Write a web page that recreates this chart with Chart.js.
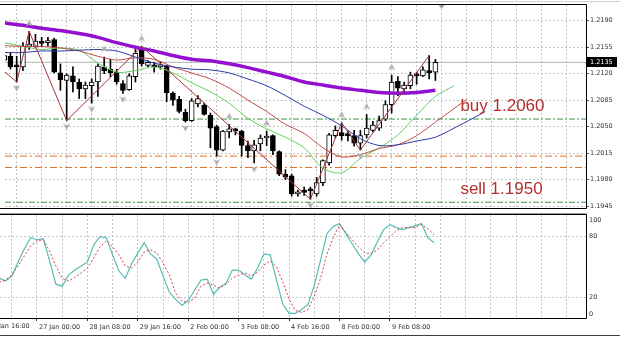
<!DOCTYPE html>
<html>
<head>
<meta charset="utf-8">
<title>EURUSD H4</title>
<script src="https://cdn.jsdelivr.net/npm/chart.js@4.4.1/dist/chart.umd.min.js"></script>
<style>
  html, body { margin: 0; padding: 0; background: #fff; }
  #wrap { position: relative; width: 620px; height: 337px; overflow: hidden; }
  canvas { position: absolute; left: 0; }
  #main { top: 0; }
  #osc { top: 213px; }
</style>
</head>
<body>
<div id="wrap">
  <canvas id="main" width="620" height="213"></canvas>
  <canvas id="osc" width="620" height="124"></canvas>
</div>
<script>
// H4 bars; bar 0 = 27 Jan 00:00, first visible bar is -6
var firstBar = -6;
var opens = [1.2138, 1.2143, 1.2131, 1.2129, 1.2156, 1.2156,
    1.2161, 1.2161, 1.2165, 1.2121, 1.2111, 1.2117, 1.2109, 1.2100, 1.2104, 1.2109,
    1.2129, 1.2126, 1.2122, 1.2107, 1.2099, 1.2116, 1.2153, 1.2131, 1.2131, 1.2129,
    1.2130, 1.2094, 1.2086, 1.2069, 1.2058, 1.2080, 1.2078, 1.2065, 1.2050, 1.2019,
    1.2043, 1.2047, 1.2044, 1.2025, 1.2018, 1.2027, 1.2035, 1.2038, 1.2017, 1.1987,
    1.1985, 1.1961, 1.1966, 1.1966, 1.1961, 1.1976, 1.2002, 1.2038, 1.2042, 1.2039,
    1.2038, 1.2028, 1.2039, 1.2045, 1.2048, 1.2060, 1.2079, 1.2110, 1.2100, 1.2104,
    1.2118, 1.2117, 1.2124, 1.2122];
var highs = [1.2148, 1.2148, 1.2143, 1.2161, 1.2176, 1.2172,
    1.2168, 1.2168, 1.2167, 1.2133, 1.2120, 1.2129, 1.2113, 1.2109, 1.2113, 1.2133,
    1.2142, 1.2139, 1.2126, 1.2111, 1.2120, 1.2152, 1.2156, 1.2137, 1.2135, 1.2135,
    1.2131, 1.2096, 1.2090, 1.2073, 1.2087, 1.2091, 1.2081, 1.2068, 1.2052, 1.2045,
    1.2053, 1.2048, 1.2045, 1.2031, 1.2032, 1.2039, 1.2044, 1.2039, 1.2018, 1.1993,
    1.1987, 1.1966, 1.1970, 1.1970, 1.1983, 1.2006, 1.2041, 1.2051, 1.2055, 1.2044,
    1.2045, 1.2045, 1.2066, 1.2057, 1.2064, 1.2084, 1.2118, 1.2116, 1.2109, 1.2122,
    1.2122, 1.2129, 1.2144, 1.2139];
var lows = [1.2135, 1.2126, 1.2109, 1.2124, 1.2152, 1.2155,
    1.2156, 1.2156, 1.2121, 1.2098, 1.2058, 1.2096, 1.2087, 1.2087, 1.2081, 1.2090,
    1.2120, 1.2116, 1.2106, 1.2094, 1.2098, 1.2109, 1.2130, 1.2129, 1.2122, 1.2126,
    1.2083, 1.2078, 1.2068, 1.2056, 1.2057, 1.2076, 1.2065, 1.2022, 1.2011, 1.2018,
    1.2035, 1.2039, 1.2011, 1.2009, 1.2002, 1.2018, 1.2025, 1.2013, 1.1985, 1.1980,
    1.1958, 1.1958, 1.1959, 1.1954, 1.1958, 1.1972, 1.1999, 1.2035, 1.2032, 1.2031,
    1.2024, 1.2019, 1.2035, 1.2043, 1.2045, 1.2058, 1.2068, 1.2091, 1.2094, 1.2100,
    1.2106, 1.2116, 1.2113, 1.2111];
var closes = [1.2144, 1.2129, 1.2129, 1.2156, 1.2159, 1.2163,
    1.2160, 1.2163, 1.2122, 1.2112, 1.2118, 1.2109, 1.2100, 1.2105, 1.2109, 1.2130,
    1.2124, 1.2121, 1.2109, 1.2098, 1.2117, 1.2147, 1.2133, 1.2135, 1.2129, 1.2131,
    1.2095, 1.2085, 1.2070, 1.2058, 1.2084, 1.2087, 1.2066, 1.2048, 1.2019, 1.2044,
    1.2047, 1.2044, 1.2025, 1.2018, 1.2026, 1.2035, 1.2037, 1.2018, 1.1987, 1.1983,
    1.1961, 1.1963, 1.1963, 1.1965, 1.1976, 1.2005, 1.2039, 1.2045, 1.2038, 1.2038,
    1.2028, 1.2038, 1.2048, 1.2052, 1.2058, 1.2079, 1.2109, 1.2101, 1.2105, 1.2118,
    1.2117, 1.2125, 1.2121, 1.2135];

// moving averages, read every 3 bars
var maBars = [-6, -3, 0, 3, 6, 9, 12, 15, 18, 21, 24, 27, 30, 33, 36, 39, 42, 45, 48, 51, 54, 57, 60, 63];
var slowMa = [1.2187, 1.2184, 1.2180, 1.2177, 1.2173, 1.2168, 1.2161, 1.2155, 1.2150, 1.2144, 1.2139, 1.2137,
    1.2133, 1.2128, 1.2122, 1.2116, 1.2109, 1.2105, 1.2101, 1.2098, 1.2095, 1.2094, 1.2095, 1.2098];
// alligator lines (shifted forward)
var jawBars = maBars.concat([66, 69, 71]);
var jaw = [1.2148, 1.2148, 1.2150, 1.2150, 1.2151, 1.2152, 1.2150, 1.2142, 1.2134, 1.2129, 1.2126, 1.2125,
    1.2121, 1.2113, 1.2104, 1.2091, 1.2077, 1.2065, 1.2051, 1.2034, 1.2025, 1.2026, 1.2031, 1.2036,
    1.2048, 1.2061, 1.2070];
var teethBars = maBars.concat([66, 68]);
var teeth = [1.2157, 1.2156, 1.2156, 1.2154, 1.2150, 1.2143, 1.2138, 1.2141, 1.2139, 1.2129, 1.2121, 1.2113,
    1.2101, 1.2085, 1.2070, 1.2053, 1.2041, 1.2022, 1.2010, 1.2013, 1.2021, 1.2026, 1.2038, 1.2056,
    1.2074, 1.2086];
var lipsBars = maBars.concat([66]);
var lips = [1.2161, 1.2156, 1.2152, 1.2154, 1.2151, 1.2134, 1.2122, 1.2124, 1.2129, 1.2121, 1.2108, 1.2096,
    1.2081, 1.2061, 1.2047, 1.2036, 1.2022, 1.1995, 1.1989, 1.2008, 1.2022, 1.2039, 1.2065, 1.2090,
    1.2104];

var zigzagBars = [-8, -4, -2, 4, 16, 43, 48, 51, 62];
var zigzag = [1.2137, 1.2109, 1.2176, 1.2058, 1.2156, 1.1954, 1.2055, 1.2019, 1.2144];
var fractalUpBars = [-2, 10, 16, 30, 36, 48, 52, 56];
var fractalDownBars = [-4, 4, 8, 13, 23, 28, 34, 43, 51];

var greenLevels = [1.2060, 1.1950];
var orangeLevels = [1.2011, 1.1996];
var noteTexts = ['buy 1.2060', 'sell 1.1950'];
var noteLevels = [1.2060, 1.1950];
var noteBar = 67;
var shiftBar = 64;

var priceTicks = [1.1945, 1.1980, 1.2015, 1.2050, 1.2085, 1.2120, 1.2155, 1.2190];
var timeTickBars = [-8, 0, 8, 16, 24, 32, 40, 48, 56];
var timeTickLabels = ['25 Jan 16:00', '27 Jan 00:00', '28 Jan 08:00', '29 Jan 16:00', '2 Feb 00:00',
    '3 Feb 08:00', '4 Feb 16:00', '8 Feb 00:00', '9 Feb 08:00'];

// stochastic
var stochMain = [39, 36, 41, 55, 68, 79, 77, 78, 56, 33, 31, 42, 47, 51, 55, 72, 80, 79, 62, 46,
    39, 53, 64, 74, 63, 58, 41, 25, 18, 12, 17, 27, 37, 38, 23, 30, 34, 47, 47, 42,
    38, 49, 63, 62, 37, 13, 4, 4, 8, 13, 32, 57, 83, 90, 93, 83, 73, 63, 55, 62,
    75, 87, 92, 89, 87, 89, 91, 93, 79, 74];
var stochSignal = [35, 37, 42, 51, 61, 71, 76, 77, 66, 51, 39, 36, 40, 44, 49, 59, 70, 76, 70, 62,
    51, 49, 55, 65, 67, 64, 54, 42, 24, 16, 15, 19, 31, 34, 32, 29, 33, 39, 42, 44,
    41, 45, 52, 56, 50, 35, 18, 7, 5, 8, 21, 39, 63, 79, 92, 84, 77, 70, 64, 63,
    67, 74, 80, 86, 89, 89, 89, 92, 88, 82];
var stochLevels = [20, 80];
var stochTicks = [0, 20, 80, 100];

// view
var xMin = -5.87, xMax = 87.1;
var priceMin = 1.19424, priceMax = 1.22108;
var oscMin = -0.5, oscMax = 101.5;
var gridStep = 4;

var axisFont = { family: 'DejaVu Sans', size: 6.5 };
var axisColor = '#333333';
var gridColor = '#c4c4c4';

function points(bars, vals) {
    return vals.map(function (v, i) { return { x: bars[i], y: v }; });
}
function barsFrom(vals) {
    return vals.map(function (v, i) { return { x: firstBar + i, y: v }; });
}
function gridTicks(scale) {
    var t = [];
    for (var v = Math.ceil(xMin / gridStep) * gridStep; v < xMax; v += gridStep) {
        t.push({ value: v });
    }
    scale.ticks = t;
}
function fractalArrow(up) {
    var gap = up ? 8 : 6;
    var c = document.createElement('canvas');
    c.width = 7;
    c.height = 2 * (gap + 4);
    var g = c.getContext('2d');
    var cy = up ? c.height / 2 - gap : c.height / 2 + gap;
    g.fillStyle = '#adadad';
    g.beginPath();
    if (up) {
        g.moveTo(3.5, cy - 3.5); g.lineTo(7, cy + 3); g.lineTo(3.5, cy + 1.2); g.lineTo(0, cy + 3);
    } else {
        g.moveTo(3.5, cy + 3.5); g.lineTo(7, cy - 3); g.lineTo(3.5, cy - 1.2); g.lineTo(0, cy - 3);
    }
    g.closePath();
    g.fill();
    return c;
}

var wickData = lows.map(function (l, i) { return { x: firstBar + i, y: [l, highs[i]] }; });
var bodyData = opens.map(function (o, i) { return { x: firstBar + i, y: [o, closes[i]] }; });
var bodyColors = opens.map(function (o, i) { return closes[i] >= o ? '#ffffff' : '#000000'; });
var lastClose = closes[closes.length - 1];

function levelSet(level, color, dash) {
    return {
        type: 'line', data: [{ x: xMin, y: level }, { x: xMax, y: level }],
        borderColor: color, borderWidth: 1, borderDash: dash, pointRadius: 0, order: 10
    };
}

var mainSets = [];
greenLevels.forEach(function (lv) { mainSets.push(levelSet(lv, '#3a944a', [6, 2, 2, 2])); });
orangeLevels.forEach(function (lv) { mainSets.push(levelSet(lv, '#e2702a', [7, 3, 2, 3])); });
mainSets.push(levelSet(lastClose, '#b4b4b4', []));
mainSets.push({
    type: 'bar', data: wickData, backgroundColor: '#000000', borderWidth: 0,
    barThickness: 1, grouped: false, order: 6
});
mainSets.push({
    type: 'bar', data: bodyData, backgroundColor: bodyColors, borderColor: '#000000', borderWidth: 1,
    borderSkipped: false, barThickness: 5, minBarLength: 2, grouped: false, order: 5
});
mainSets.push({ type: 'line', data: points(jawBars, jaw), borderColor: '#2b3aa6', borderWidth: 1, pointRadius: 0, tension: 0.3, order: 3 });
mainSets.push({ type: 'line', data: points(teethBars, teeth), borderColor: '#c24a48', borderWidth: 1, pointRadius: 0, tension: 0.3, order: 3 });
mainSets.push({ type: 'line', data: points(lipsBars, lips), borderColor: '#62cf62', borderWidth: 1, pointRadius: 0, tension: 0.3, order: 3 });
mainSets.push({ type: 'line', data: points(maBars, slowMa), borderColor: '#9410d0', borderWidth: 3.5, pointRadius: 0, tension: 0.3, order: 2 });
mainSets.push({ type: 'line', data: points(zigzagBars, zigzag), borderColor: '#a83434', borderWidth: 1, pointRadius: 0, order: 1 });
mainSets.push({
    type: 'line', showLine: false, order: 0, pointRadius: 3, pointStyle: fractalArrow(true),
    data: fractalUpBars.map(function (b) { return { x: b, y: highs[b - firstBar] }; })
});
mainSets.push({
    type: 'line', showLine: false, order: 0, pointRadius: 3, pointStyle: fractalArrow(false),
    data: fractalDownBars.map(function (b) { return { x: b, y: lows[b - firstBar] }; })
});

var mainDecor = {
    id: 'mainDecor',
    afterDraw: function (chart) {
        var ctx = chart.ctx, a = chart.chartArea, xs = chart.scales.x, ys = chart.scales.y;
        ctx.save();
        ctx.strokeStyle = '#d0d0d0';
        ctx.lineWidth = 1;
        ctx.beginPath(); ctx.moveTo(0, 1.5); ctx.lineTo(chart.width, 1.5); ctx.stroke();
        ctx.strokeStyle = '#000000';
        ctx.beginPath();
        ctx.moveTo(0, a.top - 0.5); ctx.lineTo(a.right + 0.5, a.top - 0.5);
        ctx.lineTo(a.right + 0.5, a.bottom + 0.5); ctx.lineTo(0, a.bottom + 0.5);
        ctx.stroke();
        // chart shift marker
        var sx = xs.getPixelForValue(shiftBar);
        ctx.fillStyle = '#a0a0a0';
        ctx.beginPath(); ctx.moveTo(sx - 3, a.top); ctx.lineTo(sx + 3, a.top); ctx.lineTo(sx, a.top + 4); ctx.fill();
        // trade notes
        ctx.font = '17px "Liberation Sans"';
        ctx.fillStyle = '#b3302c';
        ctx.textAlign = 'left';
        ctx.textBaseline = 'alphabetic';
        noteTexts.forEach(function (t, i) {
            ctx.fillText(t, xs.getPixelForValue(noteBar), ys.getPixelForValue(noteLevels[i]) - 8);
        });
        // last price box
        var py = Math.round(ys.getPixelForValue(lastClose));
        ctx.fillStyle = '#000000';
        ctx.fillRect(a.right + 1, py - 5, 30, 10);
        ctx.fillStyle = '#ffffff';
        ctx.font = '6.5px "DejaVu Sans"';
        ctx.textBaseline = 'middle';
        ctx.fillText(lastClose.toFixed(4), a.right + 4, py);
        ctx.restore();
    }
};

new Chart(document.getElementById('main'), {
    type: 'line',
    data: { datasets: mainSets },
    options: {
        responsive: false,
        animation: false,
        events: [],
        layout: { padding: { top: 5, bottom: 2, left: 0, right: 0 } },
        plugins: { legend: { display: false }, tooltip: { enabled: false } },
        scales: {
            x: {
                type: 'linear', min: xMin, max: xMax, offset: false,
                afterBuildTicks: gridTicks,
                ticks: { display: false },
                grid: { color: gridColor, drawTicks: false, offset: false },
                border: { display: false, dash: [2, 2] },
                afterFit: function (s) { s.height = 0; s.paddingLeft = 0; s.paddingRight = 0; }
            },
            y: {
                position: 'right', min: priceMin, max: priceMax,
                afterBuildTicks: function (s) { s.ticks = priceTicks.map(function (v) { return { value: v }; }); },
                ticks: {
                    font: axisFont, color: axisColor, padding: 1,
                    callback: function (v) { return v.toFixed(4); }
                },
                grid: { color: gridColor, tickLength: 3, tickColor: '#555555' },
                border: { display: false, dash: [2, 2] },
                afterFit: function (s) { s.width = 34; s.paddingTop = 0; s.paddingBottom = 0; }
            }
        }
    },
    plugins: [mainDecor]
});

var oscDecor = {
    id: 'oscDecor',
    afterDraw: function (chart) {
        var ctx = chart.ctx, a = chart.chartArea, xs = chart.scales.x, ys = chart.scales.y;
        ctx.save();
        ctx.lineWidth = 1;
        ctx.strokeStyle = '#9a9a9a';
        ctx.beginPath(); ctx.moveTo(0, 0.5); ctx.lineTo(a.right + 0.5, 0.5); ctx.stroke();
        ctx.strokeStyle = '#000000';
        ctx.beginPath();
        ctx.moveTo(0, a.top - 0.5); ctx.lineTo(a.right + 0.5, a.top - 0.5);
        ctx.lineTo(a.right + 0.5, a.bottom + 0.5); ctx.lineTo(0, a.bottom + 0.5);
        ctx.stroke();
        ctx.strokeStyle = '#404040';
        ctx.beginPath(); ctx.moveTo(0, chart.height - 1.5); ctx.lineTo(chart.width, chart.height - 1.5); ctx.stroke();
        // level labels, kept inside the panel
        ctx.font = '6.5px "DejaVu Sans"';
        ctx.fillStyle = axisColor;
        ctx.textAlign = 'left';
        ctx.textBaseline = 'middle';
        stochTicks.forEach(function (v) {
            var y = Math.min(Math.max(ys.getPixelForValue(v), a.top + 5), a.bottom - 4);
            ctx.fillText(String(v), a.right + 3, y);
        });
        // time labels left of the visible range
        ctx.textBaseline = 'top';
        timeTickBars.forEach(function (b, i) {
            if (b < xs.min) {
                ctx.fillText(timeTickLabels[i], xs.getPixelForValue(b) + 2, a.bottom + 5);
            }
        });
        ctx.restore();
    }
};

new Chart(document.getElementById('osc'), {
    type: 'line',
    data: {
        datasets: [
            { data: barsFrom(stochMain), borderColor: '#58bcb6', borderWidth: 1.2, pointRadius: 0, order: 1 },
            { data: barsFrom(stochSignal), borderColor: '#d0404c', borderWidth: 1, borderDash: [2, 2], pointRadius: 0, order: 0 }
        ]
    },
    options: {
        responsive: false,
        animation: false,
        events: [],
        layout: { padding: { top: 2, bottom: 0, left: 0, right: 0 } },
        plugins: { legend: { display: false }, tooltip: { enabled: false } },
        scales: {
            x: {
                type: 'linear', min: xMin, max: xMax, offset: false,
                afterBuildTicks: gridTicks,
                ticks: {
                    font: axisFont, color: axisColor, align: 'start', labelOffset: 2, padding: 2,
                    maxRotation: 0, autoSkip: false,
                    callback: function (v) {
                        var i = timeTickBars.indexOf(v);
                        return i >= 0 ? timeTickLabels[i] : '';
                    }
                },
                grid: {
                    color: gridColor, tickLength: 3, offset: false,
                    tickColor: function (c) {
                        return c.tick && timeTickBars.indexOf(c.tick.value) >= 0 ? '#333333' : 'rgba(0,0,0,0)';
                    }
                },
                border: { display: false, dash: [2, 2] },
                afterFit: function (s) { s.height = 19; s.paddingLeft = 0; s.paddingRight = 0; }
            },
            y: {
                position: 'right', min: oscMin, max: oscMax,
                afterBuildTicks: function (s) { s.ticks = stochLevels.map(function (v) { return { value: v }; }); },
                ticks: { display: false },
                grid: { color: gridColor, drawTicks: false },
                border: { display: false, dash: [2, 2] },
                afterFit: function (s) { s.width = 34; s.paddingTop = 0; s.paddingBottom = 0; }
            }
        }
    },
    plugins: [oscDecor]
});
</script>
</body>
</html>
